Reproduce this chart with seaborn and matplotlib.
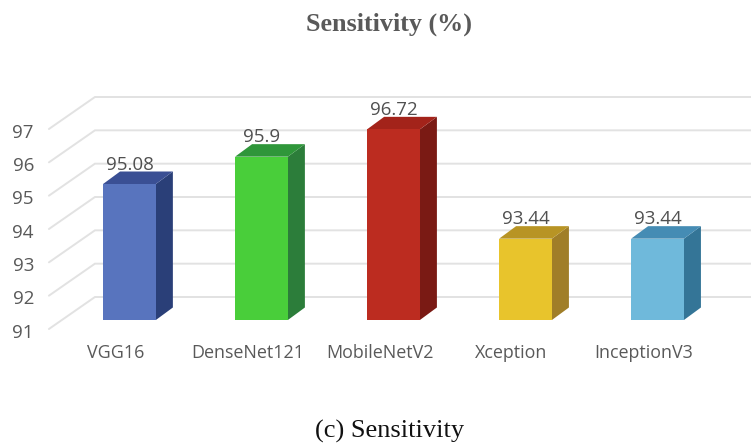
import matplotlib
matplotlib.use("Agg")
import matplotlib.pyplot as plt
from matplotlib.patches import Polygon
from matplotlib.transforms import ScaledTranslation
import seaborn as sns
import pandas as pd

models = ["VGG16", "DenseNet121", "MobileNetV2", "Xception", "InceptionV3"]
sensitivity = [95.08, 95.9, 96.72, 93.44, 93.44]
y_ticks = [91, 92, 93, 94, 95, 96, 97]
front_colors = ["#5874BE", "#49CE3A", "#BC2C20", "#E8C42C", "#6FB9DB"]
top_colors = ["#3A4F94", "#2F963A", "#A3231A", "#B89424", "#458CB4"]
side_colors = ["#2A3F78", "#2C7D3A", "#7A1A14", "#A07E28", "#347597"]

W, H = 751, 447
sns.set_theme(style="white")
plt.rcParams["font.family"] = ["Open Sans", "DejaVu Sans"]
fig = plt.figure(figsize=(W / 100, H / 100), dpi=100, facecolor="white")
ax = fig.add_axes([36 / W, 1 - 320 / H, 715 / W, 200 / H])

df = pd.DataFrame({"model": models, "value": sensitivity})
sns.barplot(data=df, x="model", y="value", hue="model", palette=front_colors,
            order=models, hue_order=models, width=0.4, legend=False, saturation=1,
            ax=ax, zorder=3, linewidth=0)
ax.set_xlim(-0.708, 4.708)
ax.set_ylim(91, 97)
ax.set_xlabel("")
ax.set_ylabel("")
sns.despine(ax=ax, left=True, bottom=True, top=True, right=True)
ax.patch.set_alpha(0)

# projection of the pseudo-3D depth, in data units
px_x = 1 / 132
px_y = 6 / 200
wall_dx, wall_dy = 46 * px_x, 32 * px_y
floor_drop = 9 * px_y
depth_dx, depth_dy = 17 * px_x, 12.5 * px_y

# walls and gridlines
x_front = -0.61
x_back = x_front + wall_dx
for t in y_ticks:
    ax.plot([x_front, x_back, 4.708],
            [t - floor_drop, t - floor_drop + wall_dy, t - floor_drop + wall_dy],
            color="#E2E2E2", lw=1.4, clip_on=False, zorder=1, solid_joinstyle="miter")

# side and top faces of each bar
for bar, top_c, side_c, val in zip(ax.patches, top_colors, side_colors, sensitivity):
    x0 = bar.get_x()
    x1 = x0 + bar.get_width()
    side = Polygon([(x1, 91), (x1 + depth_dx, 91 + depth_dy),
                    (x1 + depth_dx, val + depth_dy), (x1, val)],
                   closed=True, facecolor=side_c, edgecolor="none", zorder=2.9, clip_on=False)
    top = Polygon([(x0, val), (x1, val), (x1 + depth_dx, val + depth_dy),
                   (x0 + depth_dx, val + depth_dy)],
                  closed=True, facecolor=top_c, edgecolor="none", zorder=2.9, clip_on=False)
    ax.add_patch(side)
    ax.add_patch(top)
    ax.annotate(f"{val:g}", xy=(x0 + bar.get_width() / 2, val), xytext=(0, 14),
                textcoords="offset points", ha="center", va="center",
                fontsize=13.5, color="#505050", zorder=5, annotation_clip=False)

ax.set_yticks(y_ticks)
ax.set_yticklabels([str(t) for t in y_ticks])
ax.tick_params(axis="y", length=0, pad=1.5, labelsize=13.5, labelcolor="#595959")
ax.tick_params(axis="x", length=0, pad=17, labelsize=12.9, labelcolor="#595959")
down = ScaledTranslation(0, -10.5 / 100, fig.dpi_scale_trans)
for lab in ax.get_yticklabels():
    lab.set_transform(lab.get_transform() + down)
left = ScaledTranslation(-14 / 100, 0, fig.dpi_scale_trans)
for lab in ax.get_xticklabels():
    lab.set_transform(lab.get_transform() + left)
ax.grid(False)

fig.text(389 / W, 1 - 24 / H, "Sensitivity (%)", ha="center", va="center",
         family="Liberation Serif", weight="bold", fontsize=18.8, color="#595959")
fig.text(390 / W, 1 - 431 / H, "(c) Sensitivity", ha="center", va="center",
         family="Liberation Serif", fontsize=19, color="#111111")

fig.savefig("out.png", dpi=100)
